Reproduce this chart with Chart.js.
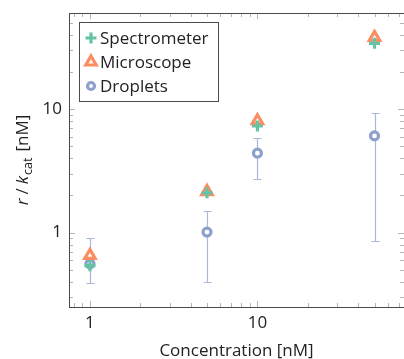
<!DOCTYPE html>
<html><head><meta charset="utf-8">
<script src="https://cdn.jsdelivr.net/npm/chart.js@4/dist/chart.umd.min.js"></script>
<style>html,body{margin:0;padding:0;background:#fff;}#wrap{width:404px;height:359px;position:relative;}</style>
</head><body><div id="wrap"><canvas id="c" width="404" height="359"></canvas></div>
<script>
const concentrations = [1, 5, 10, 50];
const spectrometer = [0.54, 2.10, 7.3, 34.1];
const microscope = [0.655, 2.15, 8.05, 38.1];
const droplets = [0.56, 1.01, 4.40, 6.07];
const dropletsLow = [0.39, 0.40, 2.74, 0.855];
const dropletsHigh = [0.91, 1.49, 5.89, 9.23];
const seriesNames = ['Spectrometer', 'Microscope', 'Droplets'];
const xTickLabels = [1, 10];
const yTickLabels = [1, 10];
const xTickValues = [0.8, 0.9, 1, 2, 3, 4, 5, 6, 7, 8, 9, 10, 20, 30, 40, 50, 60, 70];
const yTickValues = [0.3, 0.4, 0.5, 0.6, 0.7, 0.8, 0.9, 1, 2, 3, 4, 5, 6, 7, 8, 9, 10, 20, 30, 40, 50];
const xTitle = 'Concentration [nM]';

const FONT = '"Open Sans", sans-serif';
const TXT = '#222';
const GREEN = '#66c2a5', ORANGE = '#fc8d62', BLUE = '#8da0cb';

const pts = vals => concentrations.map((c, i) => ({x: c, y: vals[i]}));

const styles = [
  {pointStyle: 'cross', radius: 5.5, borderWidth: 3.2, borderColor: GREEN, backgroundColor: GREEN},
  {pointStyle: 'triangle', radius: 6, borderWidth: 3.2, borderColor: ORANGE, backgroundColor: '#fff'},
  {pointStyle: 'circle', radius: 4, borderWidth: 3.2, borderColor: BLUE, backgroundColor: '#fff'}
];

const isMajor = v => Math.abs(Math.log10(v) - Math.round(Math.log10(v))) < 1e-9;
const noPad = s => { s.paddingLeft = 0; s.paddingRight = 0; s.paddingTop = 0; s.paddingBottom = 0; };

const pgf = {
  id: 'pgf',
  beforeDatasetsDraw(chart) {
    const {ctx, chartArea: a, scales: {x, y}} = chart;
    ctx.save();
    ctx.strokeStyle = '#b5b5b5';
    ctx.lineWidth = 1;
    ctx.beginPath();
    x.ticks.forEach(t => {
      const px = Math.round(x.getPixelForValue(t.value)) + 0.5;
      const L = isMajor(t.value) ? 6 : 4;
      ctx.moveTo(px, a.bottom); ctx.lineTo(px, a.bottom - L);
      ctx.moveTo(px, a.top); ctx.lineTo(px, a.top + L);
    });
    y.ticks.forEach(t => {
      const py = Math.round(y.getPixelForValue(t.value)) + 0.5;
      const L = isMajor(t.value) ? 6 : 4;
      ctx.moveTo(a.left, py); ctx.lineTo(a.left + L, py);
      ctx.moveTo(a.right, py); ctx.lineTo(a.right - L, py);
    });
    ctx.stroke();
    ctx.strokeStyle = '#aab6da';
    ctx.lineWidth = 1.2;
    ctx.beginPath();
    concentrations.forEach((c, i) => {
      const px = Math.round(x.getPixelForValue(c)) + 0.5;
      const y1 = Math.round(y.getPixelForValue(dropletsLow[i])) + 0.5;
      const y2 = Math.round(y.getPixelForValue(dropletsHigh[i])) + 0.5;
      ctx.moveTo(px, y1); ctx.lineTo(px, y2);
      ctx.moveTo(px - 4, y1); ctx.lineTo(px + 4, y1);
      ctx.moveTo(px - 4, y2); ctx.lineTo(px + 4, y2);
    });
    ctx.stroke();
    ctx.restore();
  },
  afterDraw(chart) {
    const {ctx, chartArea: a} = chart;
    ctx.save();
    ctx.strokeStyle = '#4a4a4a';
    ctx.lineWidth = 1;
    ctx.strokeRect(Math.round(a.left) + 0.5, Math.round(a.top) + 0.5, Math.round(a.right - a.left), Math.round(a.bottom - a.top));
    // legend
    ctx.font = '17px ' + FONT;
    const tw = Math.max(...seriesNames.map(s => ctx.measureText(s).width));
    const lx = Math.round(a.left) + 10, ly = Math.round(a.top) + 9;
    const lw = Math.round(21 + tw + 10), lh = 79;
    ctx.fillStyle = '#fff';
    ctx.fillRect(lx, ly, lw, lh);
    ctx.strokeStyle = '#4a4a4a';
    ctx.strokeRect(lx + 0.5, ly + 0.5, lw, lh);
    chart.data.datasets.forEach((ds, i) => {
      const cy = ly + 16 + i * 24;
      const st = styles[i];
      ctx.strokeStyle = st.borderColor;
      ctx.fillStyle = st.backgroundColor;
      ctx.lineWidth = st.borderWidth;
      Chart.helpers.drawPoint(ctx, {pointStyle: st.pointStyle, radius: i === 2 ? 3.5 : st.radius, borderWidth: st.borderWidth, rotation: 0}, lx + 12, cy);
      ctx.fillStyle = TXT;
      ctx.font = '17px ' + FONT;
      ctx.textBaseline = 'middle';
      ctx.textAlign = 'left';
      ctx.fillText(ds.label, lx + 21, cy + 1);
    });
    // y title
    const parts = [
      {t: 'r', f: 'italic 17px ' + FONT, dy: 0, gap: 4},
      {t: '/', f: '17px ' + FONT, dy: 0, gap: 4},
      {t: 'k', f: 'italic 17px ' + FONT, dy: 0, gap: 1},
      {t: 'cat', f: '12.5px ' + FONT, dy: 3.5, gap: 6},
      {t: '[nM]', f: '17px ' + FONT, dy: 0, gap: 0}
    ];
    let total = 0;
    parts.forEach(p => { ctx.font = p.f; p.w = ctx.measureText(p.t).width; total += p.w + p.gap; });
    ctx.translate(28, (a.top + a.bottom) / 2);
    ctx.rotate(-Math.PI / 2);
    ctx.fillStyle = TXT;
    ctx.textBaseline = 'alphabetic';
    ctx.textAlign = 'left';
    let cx = -total / 2;
    parts.forEach(p => { ctx.font = p.f; ctx.fillText(p.t, cx, p.dy); cx += p.w + p.gap; });
    ctx.restore();
  }
};

new Chart(document.getElementById('c'), {
  type: 'scatter',
  data: {
    datasets: [spectrometer, microscope, droplets].map((vals, i) => ({
      label: seriesNames[i],
      data: pts(vals),
      pointStyle: styles[i].pointStyle,
      pointRadius: styles[i].radius,
      pointBorderWidth: styles[i].borderWidth,
      pointBorderColor: styles[i].borderColor,
      pointBackgroundColor: styles[i].backgroundColor,
      pointHoverRadius: styles[i].radius,
      showLine: false
    }))
  },
  options: {
    responsive: false,
    animation: false,
    devicePixelRatio: 1,
    layout: {autoPadding: false, padding: {top: 13, right: 0, left: 0, bottom: 0}},
    plugins: {legend: {display: false}, tooltip: {enabled: false}},
    scales: {
      x: {
        type: 'logarithmic', min: 0.75, max: 75,
        afterBuildTicks: s => { s.ticks = xTickValues.map(v => ({value: v, major: isMajor(v)})); },
        afterFit: s => { s.height = 52; noPad(s); },
        grid: {display: false, drawTicks: false},
        border: {display: false},
        ticks: {autoSkip: false, maxRotation: 0, padding: 6, color: TXT, font: {family: FONT, size: 17},
          callback: v => xTickLabels.includes(v) ? String(v) : ''},
        title: {display: true, text: xTitle, color: TXT, font: {family: FONT, size: 17}, padding: {top: 0, bottom: -2}}
      },
      y: {
        type: 'logarithmic', min: 0.25, max: 60,
        afterBuildTicks: s => { s.ticks = yTickValues.map(v => ({value: v, major: isMajor(v)})); },
        afterFit: s => { s.width = 69; noPad(s); },
        grid: {display: false, drawTicks: false},
        border: {display: false},
        ticks: {autoSkip: false, padding: 7, color: TXT, font: {family: FONT, size: 17},
          callback: v => yTickLabels.includes(v) ? String(v) : ''}
      }
    }
  },
  plugins: [pgf]
});
</script></body></html>
